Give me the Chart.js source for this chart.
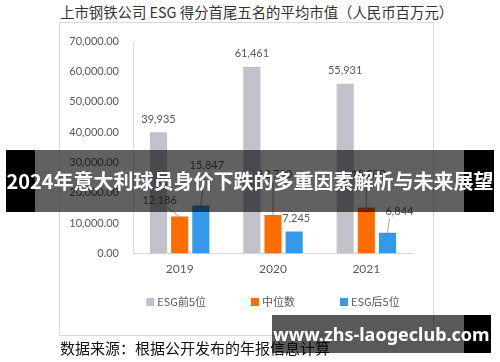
<!DOCTYPE html>
<html>
<head>
<meta charset="utf-8">
<script src="https://cdn.jsdelivr.net/npm/chart.js@4"></script>
<style>
  body { margin: 0; background: #fff; }
  #wrap { position: relative; width: 500px; height: 362px; overflow: hidden; font-family: "Noto Sans CJK SC", sans-serif; }
  #frame { position: absolute; left: 59px; top: 22px; width: 373px; height: 312px; border: 1px solid #d9d9d9; }
  #title { position: absolute; left: 60px; top: 2px; font-size: 14.4px; line-height: 20px; color: #333; white-space: nowrap; }
  #source { position: absolute; left: 60px; top: 338px; font-size: 15px; line-height: 20px; color: #111; white-space: nowrap; }
  #band { position: absolute; left: 6px; top: 150px; width: 488px; height: 62px;
    background: linear-gradient(to right, #000 0, #000 29px, rgba(0,0,0,0.62) 29px, rgba(0,0,0,0.62) 458px, #000 458px);
    color: #fff; font-weight: 700; font-size: 20px; line-height: 62px; text-align: center; white-space: nowrap; }
  #mark { position: absolute; left: 272px; top: 315px; width: 219px; height: 38px;
    background: linear-gradient(to right, rgba(0,0,0,0.65) 0, rgba(0,0,0,0.65) 192px, #000 192px);
    color: #fff; font-family: "Noto Sans", sans-serif; font-weight: 700; font-size: 18px; line-height: 38px; text-align: center; white-space: nowrap; }
  canvas { position: absolute; left: 0; top: 0; }
</style>
</head>
<body>
<div id="wrap">
  <div id="frame"></div>
  <div id="title">上市钢铁公司 ESG 得分首尾五名的平均市值（人民币百万元）</div>
  <canvas id="myChart" width="500" height="362"></canvas>
  <div id="source">数据来源：根据公开发布的年报信息计算</div>
  <div id="band">2024年意大利球员身价下跌的多重因素解析与未来展望</div>
  <div id="mark">www.zhs-laogeclub.com</div>
</div>
<script>
var years = ["2019", "2020", "2021"];
var top5 = [39935, 61461, 55931];
var median = [12186, 12700, 15200];
var bottom5 = [15847, 7245, 6844];
var yTicks = [0, 10000, 20000, 30000, 40000, 50000, 60000, 70000];

// label placement relative to bar top (dx, dy of label centre, leader line or not)
var labelPos = [
  [{ dx: 0, dy: -13 }, { dx: 0, dy: -13 }, { dx: 0, dy: -13 }],
  [{ dx: -20, dy: -16, line: true }, { dx: 2, dy: -41, line: true }, { dx: 2, dy: -33, line: true }],
  [{ dx: 6, dy: -40, line: true }, { dx: 2, dy: -13 }, { dx: 12, dy: -21, line: true }]
];

var valueLabels = {
  id: "valueLabels",
  afterDatasetsDraw: function (chart) {
    var c = chart.ctx;
    c.save();
    c.font = "11px Lato";
    c.fillStyle = "#595959";
    c.strokeStyle = "#8c8c8c";
    c.lineWidth = 0.8;
    c.textAlign = "center";
    c.textBaseline = "middle";
    chart.data.datasets.forEach(function (ds, i) {
      chart.getDatasetMeta(i).data.forEach(function (bar, j) {
        var p = labelPos[i][j];
        var lx = bar.x + p.dx, ly = bar.y + p.dy;
        if (p.line) {
          c.beginPath();
          c.moveTo(bar.x, bar.y);
          var ex = lx + (p.dx < -5 ? 8 : p.dx > 8 ? -10 : -2);
          c.lineTo(ex, ly + 7);
          c.stroke();
        }
        c.fillText(ds.data[j].toLocaleString("en-US"), lx, ly);
      });
    });
    c.restore();
  }
};

var legendDraw = {
  id: "legendDraw",
  afterDraw: function (chart) {
    var c = chart.ctx;
    var area = chart.chartArea;
    c.save();
    c.font = "11px 'Noto Sans CJK SC'";
    c.textBaseline = "middle";
    var gap = 45, box = 8, y = 302;
    var widths = chart.data.datasets.map(function (ds) {
      return box + 3 + c.measureText(ds.label).width;
    });
    var total = widths.reduce(function (a, b) { return a + b; }, 0) + gap * (widths.length - 1);
    var x = (area.left + area.right) / 2 - total / 2;
    chart.data.datasets.forEach(function (ds, i) {
      c.fillStyle = ds.backgroundColor;
      c.fillRect(x, y - box / 2, box, box);
      c.fillStyle = "#595959";
      c.fillText(ds.label, x + box + 3, y);
      x += widths[i] + gap;
    });
    c.restore();
  }
};

var ctx = document.getElementById("myChart").getContext("2d");
var chart = new Chart(ctx, {
  type: "bar",
  data: {
    labels: years,
    datasets: [
      { label: "ESG前5位", backgroundColor: "#c2c1cc", data: top5 },
      { label: "中位数", backgroundColor: "#ff6d00", data: median },
      { label: "ESG后5位", backgroundColor: "#3399e8", data: bottom5 }
    ]
  },
  options: {
    responsive: false,
    animation: false,
    layout: { padding: { left: 60, right: 87, top: 41, bottom: 78 } },
    datasets: { bar: { categoryPercentage: 0.68, barPercentage: 0.81 } },
    scales: {
      y: {
        min: 0,
        max: 70000,
        afterFit: function (s) { s.width = 73; },
        afterBuildTicks: function (s) { s.ticks = yTicks.map(function (v) { return { value: v }; }); },
        ticks: {
          padding: 14,
          color: "#595959",
          font: { family: "Lato", size: 11 },
          callback: function (v) { return v.toLocaleString("en-US", { minimumFractionDigits: 2, maximumFractionDigits: 2 }); }
        },
        grid: { display: false, drawTicks: false },
        border: { display: true, color: "#d9d9d9" }
      },
      x: {
        ticks: { padding: 8, color: "#595959", font: { family: "Lato", size: 12 } },
        grid: { display: false, drawTicks: false },
        border: { display: true, color: "#d9d9d9" }
      }
    },
    plugins: {
      legend: { display: false },
      tooltip: { enabled: false }
    }
  },
  plugins: [valueLabels, legendDraw]
});
</script>
</body>
</html>
